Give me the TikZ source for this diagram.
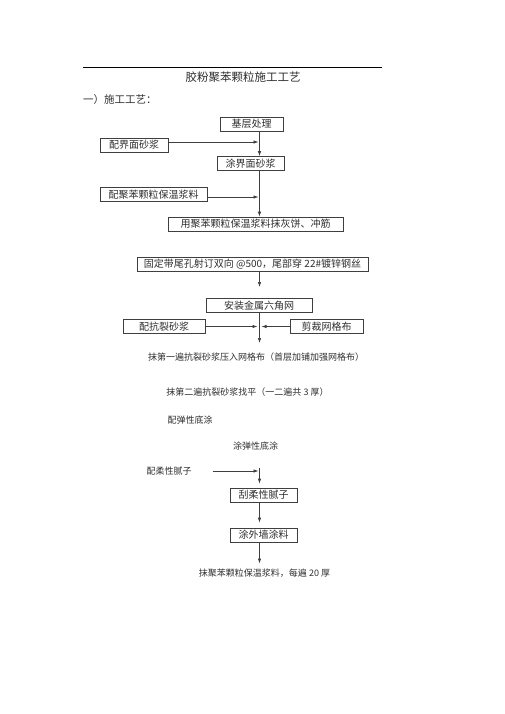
\documentclass[tikz,border=0pt]{standalone}
\usepackage{fontspec}
\usepackage{tikz}
\usetikzlibrary{arrows.meta,calc,positioning}
\newfontfamily\cjk{Noto Sans CJK SC}
\definecolor{linegray}{HTML}{3F3F3F}
\definecolor{textgray}{HTML}{2E2E2E}
\tikzset{
  stepbox/.style={draw=linegray,line width=0.7pt,minimum height=14pt,inner xsep=0pt,inner ysep=0pt,text=textgray,font=\cjk\fontsize{10}{12}\selectfont},
  notetext/.style={inner sep=0pt,text=textgray,font=\cjk\fontsize{9}{11}\selectfont},
  flowarrow/.style={-{Latex[length=5pt,width=3.5pt]},linegray,line width=0.7pt}
}
\begin{document}
\begin{tikzpicture}[x=1pt,y=-1pt]
\useasboundingbox (0,0) rectangle (505,714);
\draw[line width=0.8pt] (83,67) -- (382,67);
\node[notetext,font=\cjk\fontsize{11.5}{13}\selectfont] (title) at (243,77) {胶粉聚苯颗粒施工工艺};
\node[notetext,font=\cjk\fontsize{10.5}{12}\selectfont,anchor=west] (heading) at (83,100) {一）施工工艺：};
\coordinate (spine) at (259.5,0);
\node[stepbox,minimum width=63pt] (base) at (251.5,124) {基层处理};
\node[stepbox,minimum width=68pt] (mixa) at (134,145) {配界面砂浆};
\node[stepbox,minimum width=67pt] (coat) at (250.5,163.5) {涂界面砂浆};
\node[stepbox,minimum width=107pt] (mixb) at (153.5,194.5) {配聚苯颗粒保温浆料};
\node[stepbox,minimum width=175pt] (plaster) at (255.5,224) {用聚苯颗粒保温浆料抹灰饼、冲筋};
\node[stepbox,minimum width=231pt] (anchor) at (252.5,264) {固定带尾孔射订双向 @500，尾部穿 22\#镀锌钢丝};
\node[stepbox,minimum width=106pt] (mesh) at (259,305.5) {安装金属六角网};
\node[stepbox,minimum width=82pt] (crack) at (164,326.5) {配抗裂砂浆};
\node[stepbox,minimum width=73pt] (cut) at (326.5,326.5) {剪裁网格布};
\node[notetext] (first) at (256,357) {抹第一遍抗裂砂浆压入网格布（首层加铺加强网格布）};
\node[notetext] (second) at (247.5,392) {抹第二遍抗裂砂浆找平（一二遍共 3 厚）};
\node[notetext] (primermix) at (190,420) {配弹性底涂};
\node[notetext] (primer) at (255.5,446) {涂弹性底涂};
\node[notetext] (putty) at (169,471) {配柔性腻子};
\node[stepbox,minimum width=67pt] (scrape) at (263.5,495) {刮柔性腻子};
\node[stepbox,minimum width=67pt] (paint) at (263.5,535) {涂外墙涂料};
\node[notetext] (final) at (264.5,573) {抹聚苯颗粒保温浆料，每遍 20 厚};
\coordinate (meshend) at (259.5,287);
\coordinate (firstend) at (259.5,343);
\draw[flowarrow] (base.south -| spine) -- (coat.north -| spine);
\draw[flowarrow] ([yshift=3pt]mixa.east) -- ([xshift=-1pt,yshift=3pt]mixa.east -| spine);
\draw[flowarrow] (coat.south -| spine) -- (plaster.north -| spine);
\draw[flowarrow] ([yshift=-2.5pt]mixb.east) -- ([xshift=-1pt,yshift=-2.5pt]mixb.east -| spine);
\draw[flowarrow] (anchor.south -| spine) -- (meshend);
\draw[flowarrow] (mesh.south -| spine) -- (firstend);
\draw[flowarrow] (crack.east) -- ([xshift=-2pt]crack.east -| spine);
\draw[flowarrow] (cut.west) -- ([xshift=2pt]cut.west -| spine);
\draw[flowarrow] ([xshift=21pt]putty.east) -- ([xshift=-1pt]putty.east -| spine);
\draw[flowarrow] ([yshift=3pt]putty.east -| spine) -- ([yshift=4pt]scrape.north -| spine);
\draw[flowarrow] (scrape.south -| spine) -- ([yshift=5pt]paint.north -| spine);
\draw[flowarrow] (paint.south -| spine) -- ([yshift=5pt]final.north -| spine);
\end{tikzpicture}
\end{document}
